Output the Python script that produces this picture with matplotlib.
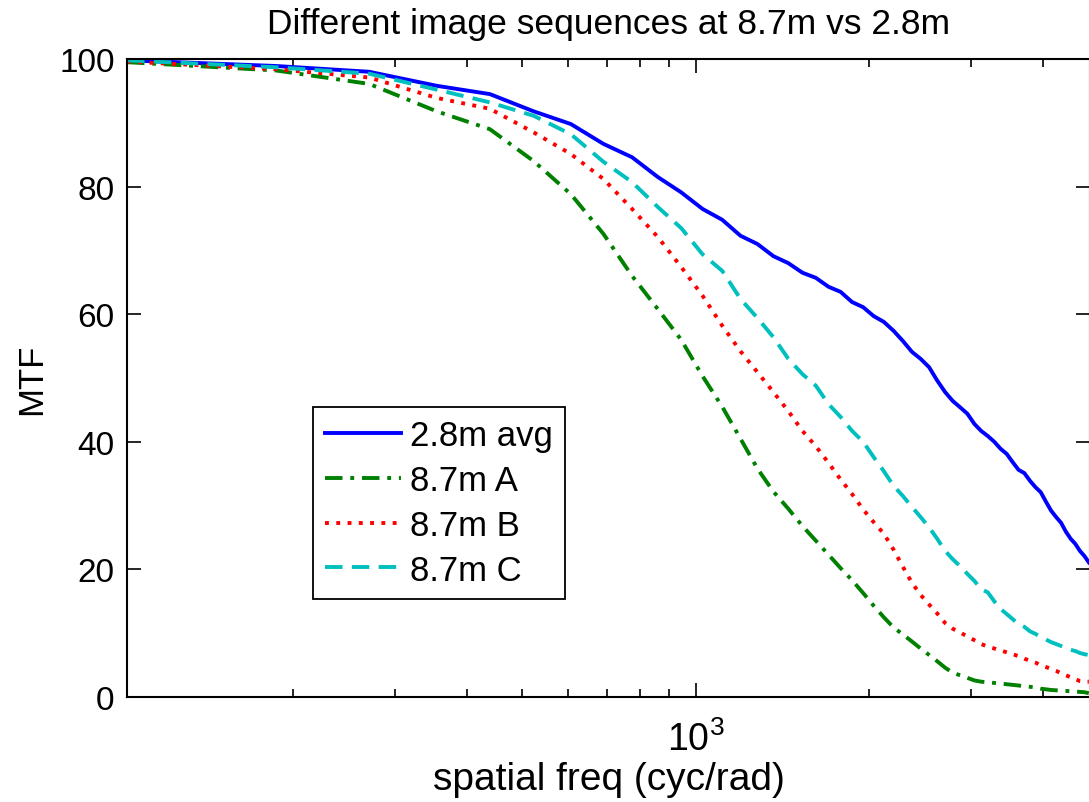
import matplotlib
matplotlib.use('Agg')
import matplotlib.pyplot as plt
from matplotlib.ticker import LogLocator, NullFormatter

plt.rcParams['font.family'] = 'Liberation Sans'
plt.rcParams['mathtext.default'] = 'regular'

# spatial frequency samples (cyc/rad)
freq = [103, 187, 271, 355, 439, 523, 607, 691, 775, 859,
        943, 1027, 1111, 1195, 1279, 1363, 1447, 1531, 1615, 1699,
        1783, 1867, 1951, 2035, 2119, 2203, 2287, 2371, 2455, 2539,
        2623, 2707, 2791, 2875, 2959, 3043, 3127, 3211, 3295, 3379,
        3463, 3547, 3631, 3715, 3799, 3883, 3967, 4051, 4135, 4219,
        4303, 4387, 4471, 4555, 4639, 4723, 4807]

mtf_28_avg = [99.8, 98.9, 98.0, 95.8, 94.5, 91.8, 89.8, 86.7, 84.6, 81.5,
              79.1, 76.5, 74.8, 72.3, 71.0, 69.1, 68.0, 66.5, 65.7, 64.3,
              63.5, 61.9, 61.1, 59.7, 58.8, 57.4, 55.8, 54.1, 53.0, 51.7,
              49.6, 47.8, 46.4, 45.4, 44.4, 42.8, 41.7, 40.9, 40.0, 38.9,
              38.1, 36.8, 35.6, 35.1, 33.9, 32.9, 32.1, 30.6, 29.2, 28.2,
              27.3, 25.9, 24.8, 24.0, 22.9, 22.1, 21.1]

mtf_87_a = [99.5, 98.2, 96.1, 91.8, 89.0, 84.0, 78.8, 72.6, 66.0, 60.8,
            56.0, 50.3, 45.5, 40.5, 35.8, 32.2, 29.5, 26.8, 24.5, 22.3,
            20.2, 18.3, 16.3, 14.3, 12.5, 10.9, 9.8, 8.7, 7.6, 6.6,
            5.6, 4.6, 3.8, 3.4, 3.0, 2.6, 2.4, 2.3, 2.2, 2.1,
            2.0, 1.9, 1.8, 1.7, 1.6, 1.5, 1.3, 1.2, 1.1, 1.05,
            1.0, 0.95, 0.9, 0.85, 0.8, 0.75, 0.6]

mtf_87_b = [99.6, 98.4, 97.1, 93.9, 92.2, 88.5, 85.1, 81.2, 76.5, 72.1,
            67.4, 62.9, 58.2, 54.2, 50.9, 47.8, 44.8, 41.7, 39.3, 36.7,
            34.1, 31.8, 29.4, 27.4, 25.6, 23.1, 20.4, 17.9, 16.0, 14.5,
            13.1, 11.6, 10.7, 10.1, 9.5, 8.9, 8.3, 7.9, 7.6, 7.3,
            7.0, 6.7, 6.4, 6.0, 5.7, 5.4, 5.0, 4.7, 4.4, 4.1,
            3.7, 3.4, 3.1, 2.8, 2.5, 2.4, 2.4]

mtf_87_c = [99.8, 98.7, 97.7, 95.2, 93.2, 91.1, 88.2, 83.9, 80.7, 76.8,
            73.5, 69.4, 66.8, 62.4, 59.4, 56.4, 53.0, 50.6, 48.8, 45.9,
            43.9, 41.7, 40.0, 37.6, 35.4, 33.1, 31.5, 29.8, 28.2, 26.6,
            24.8, 22.9, 21.6, 20.5, 19.3, 18.2, 16.9, 16.4, 15.0, 13.8,
            13.0, 12.2, 11.4, 11.0, 10.3, 9.9, 9.4, 9.0, 8.6, 8.3,
            8.0, 7.7, 7.4, 7.2, 6.9, 6.7, 6.6]

fig = plt.figure(figsize=(10.89, 8.03), dpi=100)
ax = fig.add_axes([127 / 1089, 105 / 803, 963 / 1089, 638 / 803])

lw = 2.8
ax.plot(freq, mtf_28_avg, '-', color=(0, 0, 1), linewidth=lw, label='2.8m avg')
ax.plot(freq, mtf_87_a, color=(0, 0.5, 0), linewidth=lw, dashes=(4.5, 2.0, 1.0, 2.0), label='8.7m A')
ax.plot(freq, mtf_87_b, color=(1, 0, 0), linewidth=lw, dashes=(1.0, 1.9), label='8.7m B')
ax.plot(freq, mtf_87_c, color=(0, 0.75, 0.75), linewidth=lw, dashes=(4.5, 2.4), label='8.7m C')

ax.set_xscale('log')
ax.set_xlim(103, 4830)
ax.set_ylim(0, 100)
ax.set_yticks([0, 20, 40, 60, 80, 100])
ax.xaxis.set_major_locator(LogLocator(base=10))
ax.xaxis.set_minor_locator(LogLocator(base=10, subs=range(2, 10)))
ax.xaxis.set_minor_formatter(NullFormatter())

ax.tick_params(which='both', direction='in', top=True, right=True, labelsize=24, width=1.2)
ax.tick_params(which='major', length=10, pad=9)
ax.tick_params(axis='x', which='major', pad=17, labelsize=27)
ax.tick_params(which='minor', length=6)
for s in ax.spines.values():
    s.set_linewidth(1.5)

ax.set_title('Different image sequences at 8.7m vs 2.8m', fontsize=25.5, pad=19)
ax.set_xlabel('spatial freq (cyc/rad)', fontsize=28, labelpad=2)
ax.set_ylabel('MTF', fontsize=25, labelpad=8)

leg = ax.legend(loc='lower left', bbox_to_anchor=(0.193, 0.154), fontsize=25,
                handlelength=2.2, handletextpad=0.25, labelspacing=0.34,
                borderpad=0.35, borderaxespad=0, fancybox=False, framealpha=1)
leg.get_frame().set_edgecolor('black')
leg.get_frame().set_linewidth(1.3)

fig.savefig('out.png', dpi=100)
